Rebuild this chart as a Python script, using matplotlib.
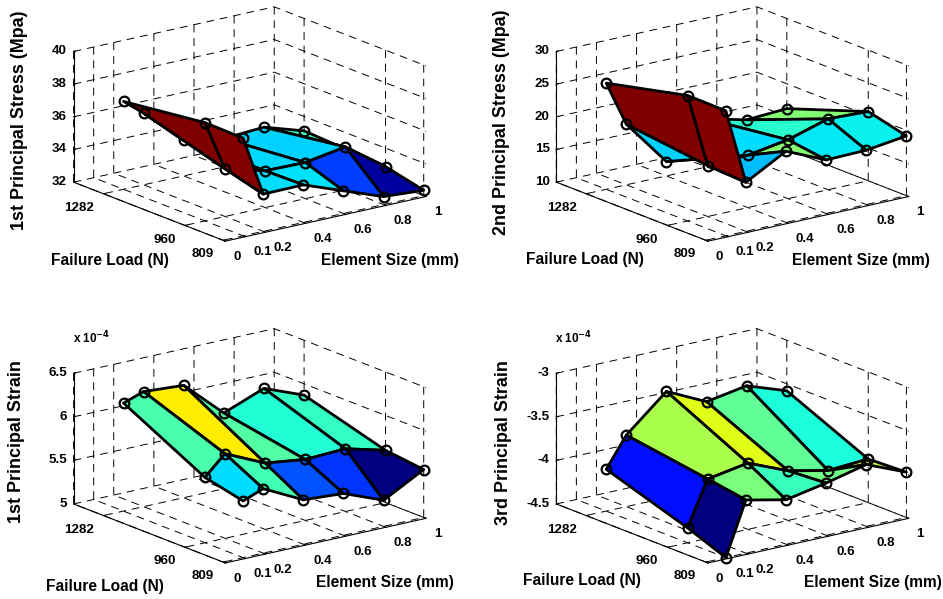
import numpy as np
import matplotlib
matplotlib.use("Agg")
import matplotlib.pyplot as plt

W, H = 943, 599
plt.rcParams['font.family'] = ['Liberation Sans', 'DejaVu Sans']
plt.rcParams['font.weight'] = 'bold'
plt.rcParams['mathtext.default'] = 'bf'

element_size = [0.1, 0.2, 0.4, 0.6, 0.8, 1.0]
failure_load = [809, 960, 1282]
x_ticks = [0, 0.1, 0.2, 0.4, 0.6, 0.8, 1]
x_labels = ['0', '0.1', '0.2', '0.4', '0.6', '0.8', '1']
y_ticks = [809, 960, 1282]
y_labels = ['809', '960', '1282']

stress1 = [[37.98, 34.28, 34.30, 33.39, 32.49, 32.33],
           [38.02, 34.92, 34.25, 34.21, 34.62, 32.87],
           [37.38, 36.39, 34.20, 33.74, 33.89, 33.12]]
stress2 = [[29.13, 17.50, 20.90, 18.20, 18.32, 19.14],
           [29.20, 17.80, 18.00, 19.00, 20.84, 20.60],
           [26.25, 19.29, 12.20, 17.37, 15.85, 16.20]]
strain1 = [[5.65, 5.74, 5.51, 5.48, 5.30, 5.55],
           [5.75, 5.97, 5.76, 5.70, 5.72, 5.60],
           [6.24, 6.32, 6.29, 5.87, 6.05, 5.87]]
strain3 = [[-4.50, -3.89, -3.99, -3.90, -3.79, -3.98],
           [-4.33, -3.82, -3.74, -3.93, -4.03, -4.00],
           [-4.02, -3.68, -3.28, -3.50, -3.42, -3.58]]

z_ticks_s1 = [32, 34, 36, 38, 40]
z_ticks_s2 = [10, 15, 20, 25, 30]
z_ticks_e1 = [5, 5.5, 6, 6.5]
z_ticks_e3 = [-4.5, -4, -3.5, -3]
z_labels_s1 = ['32', '34', '36', '38', '40']
z_labels_s2 = ['10', '15', '20', '25', '30']
z_labels_e1 = ['5', '5.5', '6', '6.5']
z_labels_e3 = ['-4.5', '-4', '-3.5', '-3']

fig = plt.figure(figsize=(W / 100, H / 100), dpi=100)
SIDE = 370
OFF = 190


def px_text(x, y, s, **kw):
    fig.text(x / W, 1 - y / H, s, ha='center', va='center', **kw)


def align(labels, ha, va):
    for lab in labels:
        lab.set_ha(ha)
        lab.set_va(va)


def panel(cx, cy, data, zticks, zlabels, hidden, zlabel, zl_pos, fl_pos, es_pos):
    ax = fig.add_axes([(cx - OFF) / W, 1 - (cy + OFF) / H, SIDE / W, SIDE / H],
                      projection='3d', computed_zorder=False)
    ax.patch.set_alpha(0)
    ax.set_proj_type('ortho')
    ax.view_init(elev=17.1, azim=-127.1)
    ax.set_box_aspect((1, 1, 0.5435))
    X, Y = np.meshgrid(element_size, failure_load)
    Z = np.array(data, dtype=float)
    nz = (Z - Z.min()) / (Z.max() - Z.min())
    surf = ax.plot_surface(X, Y, Z, facecolors=plt.cm.jet(nz), shade=False,
                           rstride=1, cstride=1, linewidth=2.0, zorder=2)
    surf.set_edgecolor('k')
    mask = np.zeros(Z.shape, bool)
    for r, c in hidden:
        mask[r, c] = True
    mk = dict(ls='none', marker='o', mfc='none', mec='k', mew=1.6, ms=7)
    ax.plot(X[~mask], Y[~mask], Z[~mask], zorder=3, **mk)
    if mask.any():
        ax.plot(X[mask], Y[mask], Z[mask], zorder=1, **mk)
    ax.set_xlim(0, 1)
    ax.set_ylim(800, 1400)
    ax.set_zlim(zticks[0], zticks[-1])
    ax.set_xticks(x_ticks, x_labels, fontsize=9.6, fontweight='bold')
    ax.set_yticks(y_ticks, y_labels, fontsize=9.6, fontweight='bold')
    ax.set_zticks(zticks, zlabels, fontsize=9.6, fontweight='bold')
    for axis in (ax.xaxis, ax.yaxis, ax.zaxis):
        axis.pane.fill = False
        axis.pane.set_edgecolor('none')
        axis.line.set_color('k')
        axis.line.set_linewidth(0.8)
        axis._axinfo['grid'].update(color='k', linewidth=0.7, linestyle=(0, (8, 6)))
        axis._axinfo['tick'].update(inward_factor=0.0, outward_factor=0.12)
    ax.tick_params(axis='both', length=3, width=0.7, colors='k')
    ax.tick_params(axis='x', pad=-1)
    ax.tick_params(axis='y', pad=-1.5)
    ax.tick_params(axis='z', pad=-5.4)
    align(ax.get_xticklabels(), 'left', 'top')
    align(ax.get_yticklabels(), 'right', 'top')
    align(ax.get_zticklabels(), 'right', 'center')
    px_text(*zl_pos, zlabel, rotation=90, fontsize=12.9)
    px_text(*fl_pos, 'Failure Load (N)', fontsize=11.2)
    px_text(*es_pos, 'Element Size (mm)', fontsize=11.2)
    return ax


panel(249.8, 124, stress1, z_ticks_s1, z_labels_s1, [(2, 2), (2, 3)],
      '1st Principal Stress (Mpa)', (20, 120), (110, 261), (390, 260))
panel(732.5, 124, stress2, z_ticks_s2, z_labels_s2, [(2, 3)],
      '2nd Principal Stress (Mpa)', (502, 122), (585, 259), (861, 261))
panel(249.8, 445.8, strain1, z_ticks_e1, z_labels_e1, [],
      '1st Principal Strain', (17, 442), (105, 587), (385, 583))
panel(732.5, 445.8, strain3, z_ticks_e3, z_labels_e3, [],
      '3rd Principal Strain', (504, 443), (582, 580), (873, 583))

px_text(92, 338, r'x 10$^{-4}$', fontsize=8.5)
px_text(574, 338, r'x 10$^{-4}$', fontsize=8.5)

fig.savefig('out.png', dpi=100)
